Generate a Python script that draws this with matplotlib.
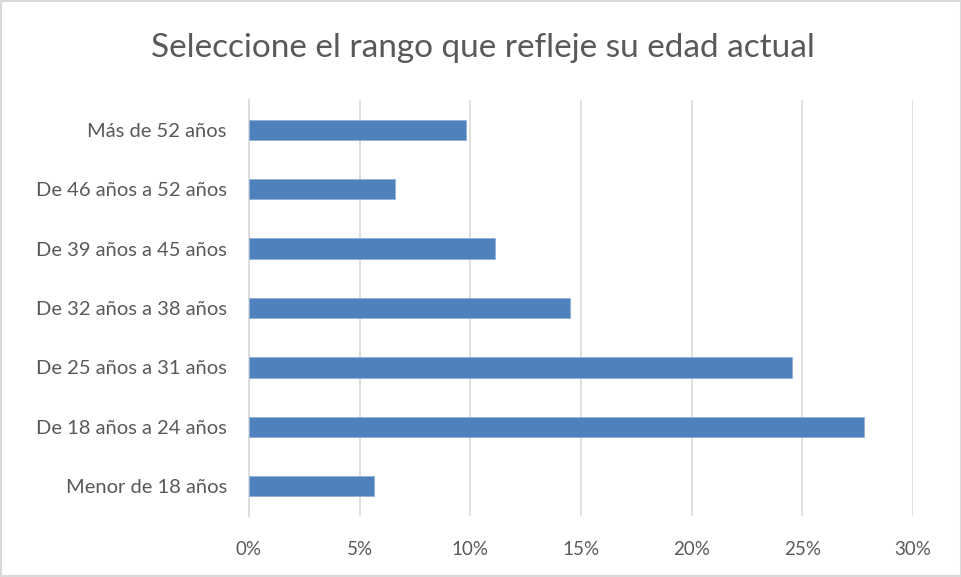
import matplotlib
matplotlib.use("Agg")
import matplotlib.pyplot as plt
from matplotlib.ticker import PercentFormatter
from matplotlib.patches import Rectangle

categories = ["Menor de 18 años", "De 18 años a 24 años", "De 25 años a 31 años",
              "De 32 años a 38 años", "De 39 años a 45 años", "De 46 años a 52 años",
              "Más de 52 años"]
values = [0.0565, 0.278, 0.2455, 0.145, 0.111, 0.066, 0.098]
xticks = [0, 0.05, 0.10, 0.15, 0.20, 0.25, 0.30]
title = "Seleccione el rango que refleje su edad actual"

plt.rcParams['font.family'] = ['Lato', 'DejaVu Sans']
text_color = "#595959"

fig = plt.figure(figsize=(9.62, 5.77), dpi=100)
ax = fig.add_axes([249/962, 1-516/577, (913-249)/962, (516-100)/577])

y = range(len(categories))
ax.barh(y, values, height=0.34, color="#4F81BD", edgecolor="#8FB0DA", linewidth=0.6, zorder=3)
ax.set_ylim(-0.5, len(categories)-0.5)
ax.set_xlim(0, 0.30)
ax.set_xticks(xticks)
ax.xaxis.set_major_formatter(PercentFormatter(1.0, decimals=0))
ax.set_yticks(list(y))
ax.set_yticklabels(categories)
ax.tick_params(axis='both', length=0, colors=text_color)
ax.tick_params(axis='x', pad=18, labelsize=13.5)
ax.tick_params(axis='y', pad=16, labelsize=14.5)
ax.grid(axis='x', color="#D9D9D9", linewidth=1.2, zorder=0)
for s in ["top", "right", "bottom"]:
    ax.spines[s].set_visible(False)
ax.spines["left"].set_color("#D9D9D9")
ax.spines["left"].set_linewidth(1.2)

fig.text(483/962, 1-48/577, title, ha="center", va="center", fontsize=24, color=text_color)
fig.patches.append(Rectangle((0.001, 0.001), 0.998, 0.997, transform=fig.transFigure,
                             fill=False, edgecolor="#D9D9D9", linewidth=1.5))

fig.savefig("out.png", dpi=100)
